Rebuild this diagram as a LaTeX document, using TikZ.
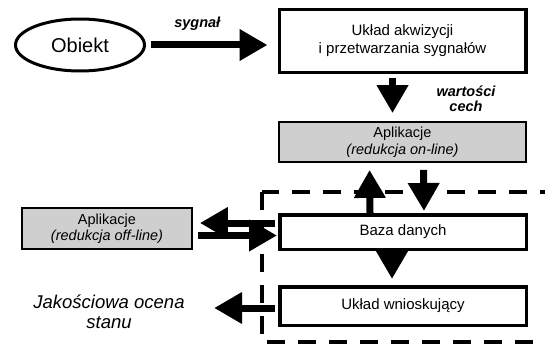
\documentclass[tikz,border=0pt]{standalone}
\usepackage{fontspec}
\setmainfont{Liberation Sans}
\usetikzlibrary{arrows.meta}
\usetikzlibrary{shapes.geometric}

\begin{document}
\begin{tikzpicture}[x=1pt, y=-1pt,
  box/.style={shape=rectangle, draw, line width=3.5pt, align=center, minimum width=246.5pt, font=\fontsize{15}{18}\selectfont},
  appbox/.style={shape=rectangle, draw, line width=1.8pt, fill=black!19, align=center, font=\fontsize{14.5}{16.5}\selectfont},
  arr/.style={line width=7pt, -{Triangle[length=28pt, width=30pt]}},
  lbl/.style={font=\fontsize{14.5}{15}\selectfont\bfseries\itshape, align=center}]
\clip (0,0) rectangle (545,345);
\node[shape=ellipse, draw, line width=3pt, minimum width=129pt, minimum height=52pt, font=\fontsize{20}{24}\selectfont] (obiekt) at (80,45) {Obiekt};
\node[box, minimum height=62.5pt] (akw) at (402.5,41) {Układ akwizycji\\ i przetwarzania sygnałów};
\node[appbox, minimum width=247pt, minimum height=40pt] (onl) at (402.5,142) {Aplikacje\\ \textit{(redukcja on-line)}};
\node[box, minimum height=34.5pt] (baza) at (403,232) {Baza danych};
\node[box, minimum height=38.5pt] (wn) at (403,306) {Układ wnioskujący};
\node[appbox, minimum width=170pt, minimum height=41pt] (off) at (107,228.5) {Aplikacje\\ \textit{(redukcja off-line)}};
\node[font=\fontsize{18.5}{20}\selectfont\itshape, align=center] (jak) at (109,311.5) {Jakościowa ocena\\ stanu};
% dashed frame
\draw[line width=3.5pt, dash pattern=on 18pt off 13pt] (262,192) rectangle (570,342);
% connectors
\draw[arr, shorten <=5pt, shorten >=10pt] (obiekt.east) -- (akw.west |- obiekt.east)
  node[lbl, pos=0.39, yshift=17pt, anchor=base] (syg) {sygnał};
\draw[arr, shorten <=4pt, shorten >=8pt] ([xshift=-10pt]akw.south) -- ([xshift=-10pt]onl.north);
\node[lbl] (cech) at (466,99) {wartości\\ cech};
\draw[arr, shorten >=7pt] ([xshift=-33pt]baza.north) -- ([xshift=-33pt]onl.south);
\draw[arr, shorten <=7pt, shorten >=2pt] ([xshift=21pt]onl.south) -- ([xshift=21pt]baza.north);
\draw[arr, shorten >=6pt] ([xshift=-11pt]baza.south) -- ([xshift=-11pt]wn.north);
\draw[arr, shorten <=3pt, shorten >=7pt] ([yshift=9pt]baza.west) -- ([yshift=9pt]baza.west -| off.east);
\draw[arr, shorten <=5pt, shorten >=1pt] ([yshift=-7pt]off.east) -- ([yshift=-7pt]off.east -| baza.west);
\draw[arr, shorten <=3pt, shorten >=26pt] ([yshift=-2pt]wn.west) -- ([yshift=-2pt]wn.west -| jak.east);
\end{tikzpicture}
\end{document}
